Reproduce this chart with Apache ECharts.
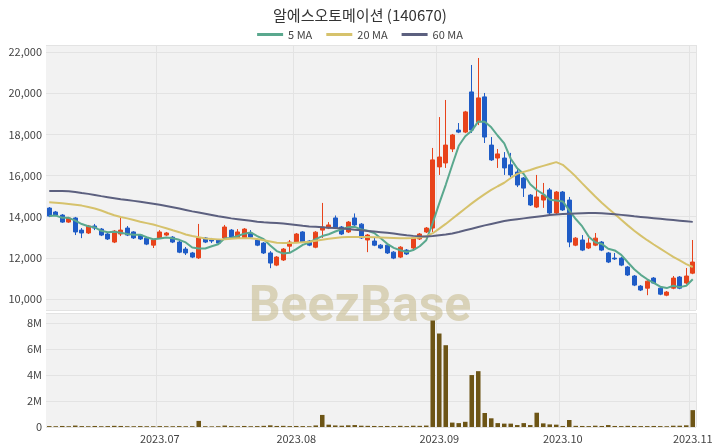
<!DOCTYPE html>
<html><head><meta charset="utf-8">
<script src="https://cdn.jsdelivr.net/npm/echarts@6/dist/echarts.min.js"></script>
<style>html,body{margin:0;padding:0;background:#fff}#c{width:720px;height:448px}</style>
</head><body><div id="c"></div>
<script>
const chartTitle = '알에스오토메이션 (140670)';
const startDate = [2023, 5, 8];
const holidays = ['2023-08-15', '2023-09-28', '2023-09-29', '2023-10-03', '2023-10-09'];

const opens = [14420,14230,14080,13740,13940,13350,13210,13550,13400,13160,12770,13160,13450,13260,13110,12960,12620,12970,13110,13010,
12770,12430,12240,12000,12970,12870,12870,12970,13350,12970,12970,13210,12870,12720,12240,11650,11900,12570,12770,13260,
12820,12520,13350,13450,13940,13500,13260,13940,13640,12870,12820,12620,12620,12280,12040,12380,12480,12920,13260,13450,
16420,16610,17290,18210,18110,20060,18600,19820,17480,16850,16850,16520,16170,15880,15050,14470,14810,15300,14180,15200,
14810,12620,12870,12480,12620,12770,12240,11990,11990,11560,11120,10630,10530,11020,10530,10190,10530,11070,10780,11260];
const closes = [14030,14080,13740,13940,13260,13210,13550,13450,13110,12920,13300,13350,13110,12970,12920,12670,12870,13260,13210,12770,
12280,12240,12040,12970,12770,12820,12720,13500,13010,13260,13400,13010,12620,12240,11750,12040,12430,12770,13160,12770,
12620,13250,13500,13600,13450,13160,13740,13600,12970,13110,12620,12480,12240,11990,12520,12190,12970,13160,13450,16760,
16900,17480,17970,18110,19090,18210,19770,17870,16760,17050,16370,16030,15540,15390,14570,14960,15050,14180,15200,14330,
12770,12960,12380,12720,12960,12380,11800,11950,11650,11170,10680,10440,10870,10780,10240,10340,11020,10530,11120,11800];
const lows = [13980,14030,13700,13700,13110,12960,13160,13350,13060,12870,12720,13060,13060,12920,12870,12620,12480,12920,13060,12720,
12230,12140,11990,11950,12720,12720,12670,12920,12960,12920,12920,12960,12570,12190,11500,11600,11850,12240,12720,12720,
12570,12470,12970,13400,13400,13110,13210,13550,12920,12280,12570,12430,12190,11940,11990,12140,12430,12870,13210,13260,
16030,16370,17140,18060,18060,18070,18450,17580,16710,16370,16030,15930,15440,14960,14520,14420,14430,14130,14130,14280,
12520,12570,12330,12430,12570,12330,11750,11900,11600,11120,10630,10390,10190,10730,10190,10140,10480,10480,10730,11210];
const highs = [14470,14280,14130,13990,13990,13450,13600,13650,13450,13210,13350,13940,13550,13300,13160,13010,12920,13350,13260,13060,
12820,12530,12290,13650,13010,12970,12920,13600,13400,13400,13450,13350,12920,12770,12330,12090,12480,12870,13210,13300,
12870,13300,14670,13740,14060,13550,13790,14160,13690,13160,12970,12670,12670,12330,12570,12430,13020,13210,13500,17340,
18840,19670,18020,18550,19140,21370,21710,20010,17870,17290,17140,17100,16370,15930,15100,16030,15640,15390,15250,15250,
14960,13010,13110,12960,13210,12820,12290,12240,12040,11610,11170,10680,10920,11070,10580,10390,11120,11120,11510,12870];
const volumes = [70000,60000,80000,60000,110000,70000,60000,80000,60000,70000,90000,80000,60000,60000,70000,60000,60000,70000,60000,60000,
70000,60000,60000,470000,60000,50000,60000,110000,70000,60000,80000,60000,70000,90000,130000,80000,90000,70000,80000,70000,
60000,120000,930000,180000,120000,100000,130000,150000,100000,90000,80000,70000,80000,70000,90000,70000,100000,90000,110000,8200000,
7200000,6300000,340000,300000,400000,4000000,4300000,1080000,670000,300000,260000,260000,150000,300000,150000,1100000,280000,200000,180000,80000,
540000,90000,80000,70000,100000,80000,150000,80000,70000,90000,80000,70000,70000,80000,70000,60000,100000,100000,130000,1300000];
const ma20 = [14700,14680,14650,14620,14580,14540,14470,14400,14300,14180,14070,13990,13920,13840,13760,13690,13620,13530,13440,13340,
13250,13140,13060,13000,12940,12920,12900,12910,12930,12950,12960,12960,12920,12860,12800,12740,12720,12720,12740,12760,
12780,12830,12880,12930,12970,13000,13010,13020,13020,13010,13000,12990,12980,12970,12960,12960,12970,12990,13050,13200,
13420,13650,13900,14150,14400,14650,14880,15100,15300,15480,15650,15880,16080,16180,16270,16380,16470,16560,16650,16520,
16250,15950,15620,15300,14980,14680,14400,14130,13850,13580,13320,13080,12860,12650,12450,12250,12050,11880,11700,11560];
const ma60 = [15250,15250,15250,15240,15200,15150,15110,15060,15000,14950,14900,14850,14810,14770,14730,14680,14630,14580,14520,14460,
14400,14330,14260,14200,14140,14080,14020,13970,13920,13880,13840,13800,13760,13730,13710,13690,13670,13640,13600,13560,
13530,13510,13490,13470,13450,13430,13400,13370,13340,13310,13280,13250,13220,13180,13140,13100,13070,13050,13040,13060,
13100,13140,13190,13260,13340,13420,13500,13580,13650,13720,13790,13840,13880,13920,13960,14000,14040,14080,14110,14130,
14150,14160,14170,14180,14180,14170,14150,14120,14090,14060,14020,13990,13960,13930,13900,13870,13840,13810,13780,13750];

const dates = [];
{
  const d = new Date(Date.UTC(startDate[0], startDate[1], startDate[2]));
  while (dates.length < opens.length) {
    const wd = d.getUTCDay();
    const s = d.toISOString().slice(0, 10);
    if (wd !== 0 && wd !== 6 && holidays.indexOf(s) < 0) dates.push(s);
    d.setUTCDate(d.getUTCDate() + 1);
  }
}
const ma5 = closes.map((c, i) => {
  const s = closes.slice(Math.max(0, i - 4), i + 1);
  return Math.round(s.reduce((a, b) => a + b, 0) / s.length);
});
const candleData = opens.map((o, i) => [o, closes[i], lows[i], highs[i]]);
const isMonthStart = (i) => i > 0 && dates[i].slice(0, 7) !== dates[i - 1].slice(0, 7);

const UP = '#e8431b', DOWN = '#1f5cc6';
const gridLine = '#e3e3e3';
const font = "'Noto Sans CJK KR', 'Noto Sans', sans-serif";

const chart = echarts.init(document.getElementById('c'), null, {renderer: 'canvas'});
const xBase = (gi, showLabel) => ({
  type: 'category', gridIndex: gi, data: dates, boundaryGap: true,
  axisLine: {show: false}, axisTick: {show: false},
  splitLine: {show: true, interval: (i) => isMonthStart(i), lineStyle: {color: gridLine, width: 1}},
  axisLabel: {show: showLabel, interval: (i) => isMonthStart(i), color: '#444', fontSize: 11, fontFamily: font, margin: 6,
    formatter: (v) => v.slice(0, 4) + '.' + v.slice(5, 7)}
});
chart.setOption({
  animation: false,
  textStyle: {fontFamily: font},
  title: {text: chartTitle, left: 'center', top: 3, textStyle: {fontSize: 15, fontWeight: 'normal', color: '#333', fontFamily: font}},
  legend: {top: 24, left: 'center', itemWidth: 26, itemHeight: 3, itemGap: 14, icon: 'rect',
    textStyle: {fontSize: 11, color: '#444', fontFamily: font}, data: ['5 MA', '20 MA', '60 MA']},
  graphic: [{type: 'text', left: 'center', top: 283, z: 1, silent: true,
    style: {text: 'BeezBase', fontSize: 50, fontWeight: 'bold', fontFamily: 'Roboto, sans-serif', fill: 'rgba(200,188,145,0.6)'}}],
  grid: [
    {left: 46, right: 24, top: 45, height: 265, show: true, backgroundColor: '#f2f2f2', borderWidth: 0},
    {left: 46, right: 24, top: 313, height: 114, show: true, backgroundColor: '#f2f2f2', borderWidth: 0}
  ],
  xAxis: [xBase(0, false), xBase(1, true)],
  yAxis: [
    {type: 'value', gridIndex: 0, min: 9470, max: 22340, splitNumber: 6, scale: true,
      axisLine: {show: false}, axisTick: {show: false},
      splitLine: {lineStyle: {color: gridLine}},
      axisLabel: {color: '#444', fontSize: 11, fontFamily: font, margin: 4,
        formatter: (v) => (v % 2000 === 0 ? v.toLocaleString('en-US') : '')}},
    {type: 'value', gridIndex: 1, min: 0, max: 8780000, interval: 2000000,
      axisLine: {show: false}, axisTick: {show: false},
      splitLine: {lineStyle: {color: gridLine}},
      axisLabel: {color: '#444', fontSize: 11, fontFamily: font, margin: 4,
        formatter: (v) => (v === 0 ? '0' : (v % 2000000 === 0 ? (v / 1000000) + 'M' : ''))}}
  ],
  series: [
    {type: 'candlestick', xAxisIndex: 0, yAxisIndex: 0, data: candleData, barWidth: '74%',
      itemStyle: {color: UP, color0: DOWN, borderColor: UP, borderColor0: DOWN, borderWidth: 1}},
    {name: '5 MA', type: 'line', xAxisIndex: 0, yAxisIndex: 0, data: ma5, symbol: 'none', color: '#5aa88e',
      lineStyle: {width: 2, color: '#5aa88e'}, z: 3},
    {name: '20 MA', type: 'line', xAxisIndex: 0, yAxisIndex: 0, data: ma20, symbol: 'none', color: '#d6c26c',
      lineStyle: {width: 2, color: '#d6c26c'}, z: 3},
    {name: '60 MA', type: 'line', xAxisIndex: 0, yAxisIndex: 0, data: ma60, symbol: 'none', color: '#5c607f',
      lineStyle: {width: 2, color: '#5c607f'}, z: 3},
    {type: 'bar', xAxisIndex: 1, yAxisIndex: 1, data: volumes, barWidth: '70%', itemStyle: {color: '#6d5516'}}
  ]
});
</script>
</body></html>
